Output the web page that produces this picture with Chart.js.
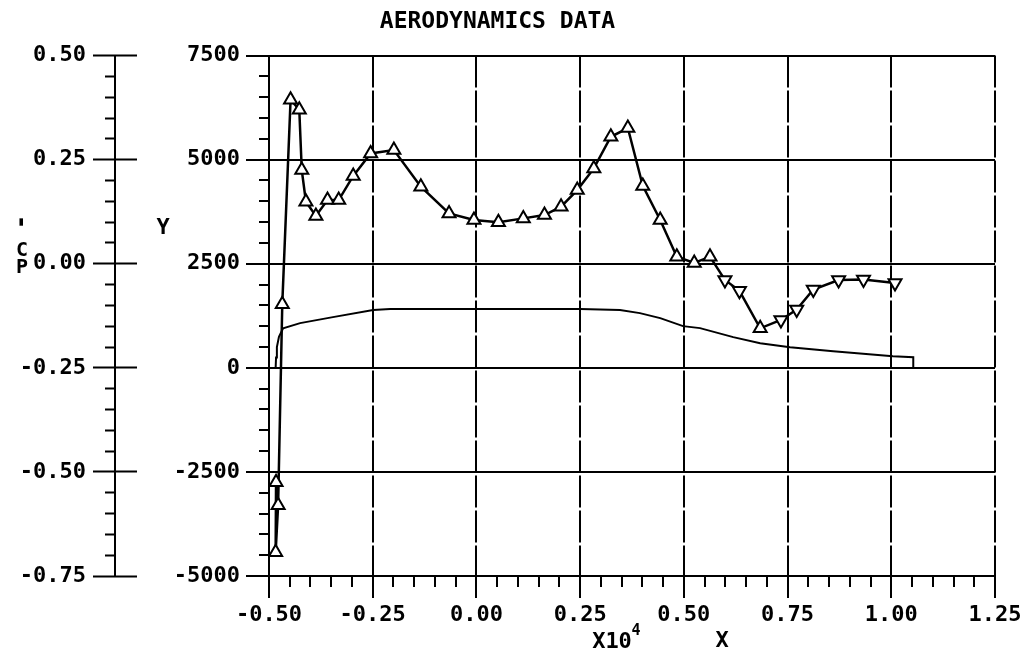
<!DOCTYPE html>
<html><head><meta charset="utf-8">
<script src="https://cdn.jsdelivr.net/npm/chart.js@4/dist/chart.umd.min.js"></script>
<style>html,body{margin:0;padding:0;background:#fff}canvas{display:block}</style>
</head><body>
<canvas id="c" width="1027" height="663"></canvas>
<script>
// ---- data (X in units of 10^4) ----
const xCp = [-0.483, -0.484, -0.478, -0.468, -0.448, -0.427, -0.421, -0.411, -0.387, -0.359,
             -0.332, -0.297, -0.255, -0.199, -0.134, -0.066, -0.006, 0.053, 0.113, 0.164,
             0.204, 0.243, 0.283, 0.324, 0.365, 0.401, 0.443, 0.483, 0.525, 0.563,
             0.599, 0.634, 0.684, 0.734, 0.772, 0.812, 0.873, 0.933, 1.009];
const cpValues = [-0.525, -0.693, -0.580, -0.097, 0.394, 0.370, 0.225, 0.149, 0.115, 0.153,
                  0.153, 0.211, 0.265, 0.273, 0.185, 0.121, 0.105, 0.100, 0.109, 0.117,
                  0.137, 0.177, 0.229, 0.305, 0.326, 0.187, 0.105, 0.017, 0.002, 0.017,
                  -0.039, -0.065, -0.155, -0.135, -0.110, -0.062, -0.039, -0.038, -0.046];
const cpSymbol = ['up','up','up','up','up','up','up','up','up','up',
                  'up','up','up','up','up','up','up','up','up','up',
                  'up','up','up','up','up','up','up','up','up','up',
                  'down','down','up','down','down','down','down','down','down'];
const xAirfoil = [-0.484, -0.483, -0.481, -0.476, -0.466, -0.425, -0.346, -0.249, -0.208, 0.057,
                  0.250, 0.346, 0.394, 0.443, 0.498, 0.539, 0.619, 0.684, 0.756, 0.860,
                  1.004, 1.053, 1.053];
const yAirfoil = [0, 250, 500, 745, 947, 1074, 1218, 1387, 1411, 1411,
                  1411, 1387, 1314, 1194, 1002, 954, 738, 593, 497, 401,
                  281, 257, 0];
const xTickLabels = ['-0.50','-0.25','0.00','0.25','0.50','0.75','1.00','1.25'];
const yTickLabels = ['-5000','-2500','0','2500','5000','7500'];
const cpTickLabels = ['-0.75','-0.50','-0.25','0.00','0.25','0.50'];

const FONT = '"DejaVu Sans Mono", "Liberation Mono", monospace';

function makeTicks(labels) {
  const out = [];
  for (let i = 0; i < labels.length; i++) {
    const a = parseFloat(labels[i]);
    out.push({value: a, major: true, text: labels[i]});
    if (i < labels.length - 1) {
      const b = parseFloat(labels[i + 1]);
      for (let k = 1; k < 5; k++) out.push({value: a + (b - a) * k / 5, major: false, text: ''});
    }
  }
  return out;
}
const xTicks = makeTicks(xTickLabels);
const yTicks = makeTicks(yTickLabels);
const cpTicks = makeTicks(cpTickLabels);
const isMajor = c => !!(c.tick && c.tick.major);
const labelCb = (v, i, t) => (t[i] && t[i].text) || '';
const tickFont = {family: FONT, size: 22, weight: 'bold'};

const textPlugin = {
  id: 'texts',
  afterDraw(chart) {
    const ctx = chart.ctx;
    const cp = chart.scales.cp;
    ctx.save();
    // Cp axis spine (centre of the crossing ticks)
    const sx = cp.right - cp.options.grid.tickLength / 2;
    ctx.strokeStyle = '#000'; ctx.lineWidth = 2;
    ctx.beginPath(); ctx.moveTo(sx, cp.top); ctx.lineTo(sx, cp.bottom); ctx.stroke();
    ctx.fillStyle = '#000';
    ctx.textAlign = 'center'; ctx.textBaseline = 'middle';
    ctx.font = 'bold 22px ' + FONT;
    ctx.fillText('Y', 163, 228);
    ctx.fillText('X', 722, 641);
    ctx.fillText('X10', 612, 642);
    ctx.font = 'bold 15px ' + FONT;
    ctx.fillText('4', 636, 631);
    ctx.font = 'bold 20px ' + FONT;
    ctx.fillText('C', 22, 251);
    ctx.fillText('P', 22, 268);
    ctx.save();
    ctx.translate(22, 222); ctx.rotate(-Math.PI / 2);
    ctx.font = 'bold 24px ' + FONT;
    ctx.fillText('-', 0, 0);
    ctx.restore();
    ctx.restore();
  }
};

new Chart(document.getElementById('c'), {
  type: 'scatter',
  data: {
    datasets: [
      {
        label: 'Airfoil',
        data: xAirfoil.map((x, i) => ({x, y: yAirfoil[i]})),
        xAxisID: 'x', yAxisID: 'y',
        showLine: true, borderColor: '#000', borderWidth: 2,
        pointRadius: 0, tension: 0
      },
      {
        label: '-Cp',
        data: xCp.map((x, i) => ({x, y: cpValues[i]})),
        xAxisID: 'x', yAxisID: 'cp',
        showLine: true, borderColor: '#000', borderWidth: 2.5,
        pointStyle: 'triangle', pointRadius: 7.5,
        pointRotation: cpSymbol.map(s => s === 'up' ? 0 : 180),
        pointBackgroundColor: '#fff', pointBorderColor: '#000', pointBorderWidth: 2,
        tension: 0
      }
    ]
  },
  options: {
    responsive: false,
    animation: false,
    devicePixelRatio: 1,
    layout: {padding: {left: 0, right: 32, top: 0, bottom: 0}},
    plugins: {
      legend: {display: false},
      tooltip: {enabled: false},
      title: {
        display: true, text: 'AERODYNAMICS DATA', color: '#000',
        font: {family: FONT, size: 23, weight: 'bold'},
        padding: {top: 8, bottom: 20}
      }
    },
    scales: {
      x: {
        type: 'linear', position: 'bottom', min: -0.5, max: 1.25,
        afterBuildTicks: s => { s.ticks = xTicks.map(t => ({...t})); },
        afterFit: s => { s.height = 87; },
        ticks: {autoSkip: false, maxRotation: 0, minRotation: 0, padding: 4, color: '#000', font: tickFont, callback: labelCb},
        grid: {
          color: '#000', lineWidth: c => isMajor(c) ? 2 : 0,
          tickLength: 22, tickWidth: 2, tickColor: '#000',
          tickBorderDash: c => isMajor(c) ? [] : [10, 100]
        },
        border: {display: true, color: '#000', width: 2, dash: [32, 3]}
      },
      y: {
        type: 'linear', position: 'left', weight: 0, min: -5000, max: 7500,
        afterBuildTicks: s => { s.ticks = yTicks.map(t => ({...t})); },
        afterFit: s => { s.width = 132; },
        ticks: {autoSkip: false, padding: 6, color: '#000', font: tickFont, callback: labelCb},
        grid: {
          color: '#000', lineWidth: c => isMajor(c) ? 2 : 0,
          tickLength: 23, tickWidth: 2, tickColor: '#000',
          tickBorderDash: c => isMajor(c) ? [] : [0, 13, 10, 100]
        },
        border: {display: true, color: '#000', width: 2}
      },
      cp: {
        type: 'linear', position: 'left', weight: 1, min: -0.75, max: 0.5,
        afterBuildTicks: s => { s.ticks = cpTicks.map(t => ({...t})); },
        afterFit: s => { s.width = 137; },
        ticks: {autoSkip: false, padding: 7, color: '#000', font: tickFont, callback: labelCb},
        grid: {
          drawOnChartArea: false, color: '#000',
          tickLength: 44, tickWidth: 2, tickColor: '#000',
          tickBorderDash: c => isMajor(c) ? [] : [0, 12, 10, 100]
        },
        border: {display: false}
      }
    }
  },
  plugins: [textPlugin]
});
</script>
</body></html>
